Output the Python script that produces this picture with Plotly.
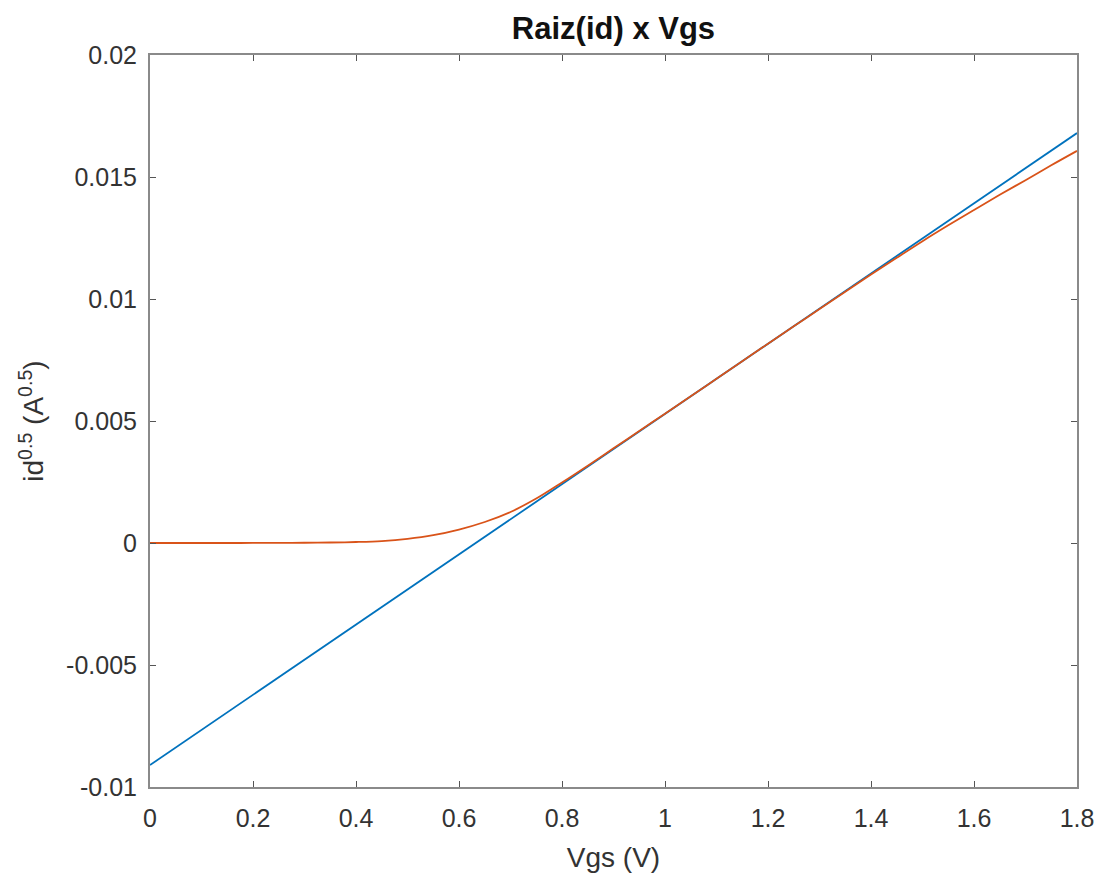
import plotly.graph_objects as go

# Tangent line (linear fit) endpoints
vgs_fit = [0.0, 1.8]
sqrt_id_fit = [-0.0091, 0.0168]

# Simulated sqrt(id) versus Vgs
vgs = [0.00, 0.05, 0.10, 0.15, 0.20, 0.25, 0.30, 0.35, 0.40, 0.45,
       0.50, 0.55, 0.60, 0.65, 0.70, 0.75, 0.80, 0.85, 0.90, 0.95,
       1.00, 1.05, 1.10, 1.15, 1.20, 1.25, 1.30, 1.35, 1.40, 1.45,
       1.50, 1.55, 1.60, 1.65, 1.70, 1.75, 1.80]
sqrt_id = [0.0, 0.0, 0.0, 0.0, 0.000002, 0.000005, 0.00001, 0.00002, 0.00004, 0.00008,
           0.00017, 0.00032, 0.00055, 0.00086, 0.00127, 0.00182, 0.00248, 0.00317, 0.00388, 0.00459,
           0.00530, 0.00601, 0.00673, 0.00745, 0.00817, 0.00888, 0.00959, 0.01030, 0.01100, 0.01169,
           0.01237, 0.01302, 0.01365, 0.01427, 0.01487, 0.01548, 0.01607]

x_ticks = [0, 0.2, 0.4, 0.6, 0.8, 1.0, 1.2, 1.4, 1.6, 1.8]
x_labels = ["0", "0.2", "0.4", "0.6", "0.8", "1", "1.2", "1.4", "1.6", "1.8"]
y_ticks = [-0.01, -0.005, 0, 0.005, 0.01, 0.015, 0.02]
y_labels = ["-0.01", "-0.005", "0", "0.005", "0.01", "0.015", "0.02"]

FONT = "Liberation Sans, Arial, sans-serif"

fig = go.Figure()
fig.add_trace(go.Scatter(x=vgs_fit, y=sqrt_id_fit, mode="lines",
                         line=dict(color="#0072BD", width=1.8), showlegend=False))
fig.add_trace(go.Scatter(x=vgs, y=sqrt_id, mode="lines", line_shape="spline",
                         line=dict(color="#D95319", width=1.8), showlegend=False))

axis_common = dict(
    showline=True, linecolor="#8a8a8a", linewidth=2, mirror="ticks",
    ticks="inside", ticklen=6, tickwidth=1.2, tickcolor="#555555",
    showgrid=False, zeroline=False, automargin=False,
    tickfont=dict(family=FONT, size=25, color="#333333"),
)

fig.update_layout(
    width=1104, height=874,
    margin=dict(l=150, r=27, t=55, b=87),
    paper_bgcolor="white", plot_bgcolor="white",
    title=dict(text="<b>Raiz(id) x Vgs</b>", x=0.5557, xanchor="center",
               y=0.968, yanchor="middle",
               font=dict(family=FONT, size=31, color="#111111")),
    xaxis=dict(range=[0, 1.8], tickvals=x_ticks, ticktext=x_labels,
               ticklabelstandoff=8,
               title=dict(text="Vgs (V)", standoff=16,
                          font=dict(family=FONT, size=28, color="#333333")),
               **axis_common),
    yaxis=dict(range=[-0.01, 0.02], tickvals=y_ticks, ticktext=y_labels,
               ticklabelstandoff=6,
               title=dict(text="id<sup>0.5</sup> (A<sup>0.5</sup>)", standoff=14,
                          font=dict(family=FONT, size=28, color="#333333")),
               **axis_common),
)

fig.write_html("out.html")
